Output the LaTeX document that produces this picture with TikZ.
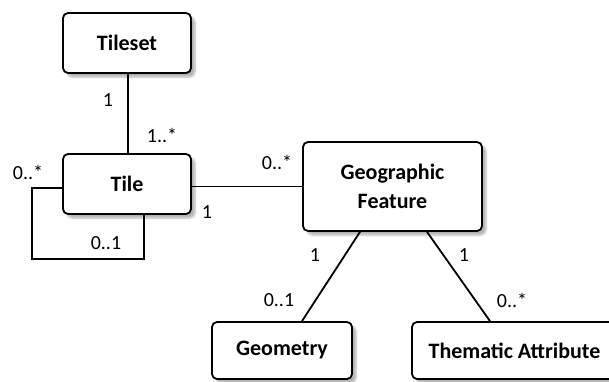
\documentclass[tikz,border=0pt]{standalone}
\usepackage{fontspec}
\setmainfont{Carlito}
\usetikzlibrary{shadows.blur,calc}
\begin{document}
\begin{tikzpicture}[x=1pt,y=-1pt,
  cls/.style={draw=black, line width=1.8pt, rounded corners=5pt, fill=white,
    font=\fontsize{22}{29}\selectfont\bfseries, align=center, inner sep=0pt,
    blur shadow={shadow xshift=4pt, shadow yshift=-4pt, shadow blur steps=6, shadow opacity=30}},
  assoc/.style={line width=1.8pt, black},
  mult/.style={font=\fontsize{20}{24}\selectfont, inner sep=0pt}]
\useasboundingbox (0,0) rectangle (609,381);
\node[cls, minimum width=128pt, minimum height=60pt] (tileset) at (127,43) {Tileset};
\node[cls, minimum width=128pt, minimum height=60pt] (tile) at (127,184) {Tile};
\node[cls, minimum width=179pt, minimum height=89pt] (geo) at (392.5,186.5) {Geographic\\Feature};
\node[cls, minimum width=140pt, minimum height=57pt] (geom) at (282,350.5) {Geometry};
\node[cls, minimum width=205pt, minimum height=57pt] (them) at (514.5,350.5) {Thematic Attribute};
\coordinate (l1) at (32,188);
\coordinate (l2) at (32,259);
\coordinate (l3) at (144,259);
\draw[assoc] (tileset.south -| 128,0) -- (tile.north -| 128,0);
\draw[assoc] (tile.east |- geo.west) -- (geo.west);
\draw[assoc] (tile.west |- l1) -- (l1) -- (l2) -- (l3) -- (tile.south -| l3);
\draw[assoc] ($(geo.south)+(-32.5,0)$) -- ($(geom.north)+(20,0)$);
\draw[assoc] ($(geo.south)+(34.5,0)$) -- ($(them.north)+(-24.5,0)$);
\node[mult] (m1) at (108,100) {1};
\node[mult] (m2) at (162,135) {1..*};
\node[mult] (m3) at (28,172) {0..*};
\node[mult] (m4) at (106,243) {0..1};
\node[mult] (m5) at (277,162) {0..*};
\node[mult] (m6) at (207,212) {1};
\node[mult] (m7) at (315,255) {1};
\node[mult] (m8) at (279,300) {0..1};
\node[mult] (m9) at (464,255) {1};
\node[mult] (m10) at (512,300) {0..*};
\end{tikzpicture}
\end{document}
